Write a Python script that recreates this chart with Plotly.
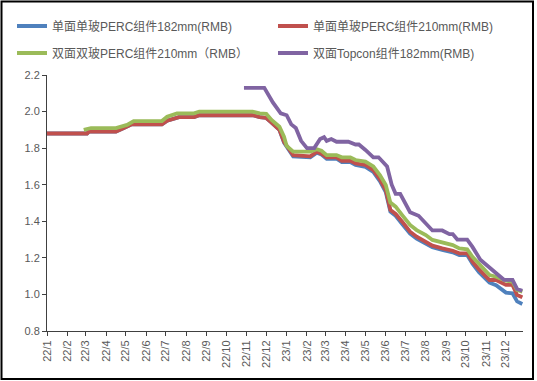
import plotly.graph_objects as go

# ---- data ----
names = ["单面单玻PERC组件182mm(RMB)", "单面单玻PERC组件210mm(RMB)",
         "双面双玻PERC组件210mm（RMB）", "双面Topcon组件182mm(RMB)"]

perc_dates = ["2022-01-01", "2022-03-03", "2022-03-06", "2022-04-16", "2022-04-28", "2022-05-10",
              "2022-06-25", "2022-07-03", "2022-07-21", "2022-08-13", "2022-08-21", "2022-11-10",
              "2022-11-21", "2022-12-01", "2022-12-09", "2022-12-21", "2022-12-28", "2023-01-11",
              "2023-02-06", "2023-02-16", "2023-02-23", "2023-03-03", "2023-03-18", "2023-03-26",
              "2023-04-08", "2023-04-16", "2023-05-01", "2023-05-13", "2023-05-23", "2023-06-01",
              "2023-06-08", "2023-06-16", "2023-06-26", "2023-07-08", "2023-07-18", "2023-08-01",
              "2023-08-11", "2023-08-26", "2023-09-11", "2023-09-21", "2023-10-03", "2023-10-11",
              "2023-10-21", "2023-11-06", "2023-11-16", "2023-12-01", "2023-12-11", "2023-12-18",
              "2023-12-26"]

red_values = [1.88, 1.88, 1.89, 1.89, 1.91, 1.93,
              1.93, 1.95, 1.97, 1.97, 1.98, 1.98,
              1.97, 1.965, 1.94, 1.90, 1.835, 1.762,
              1.755, 1.78, 1.77, 1.75, 1.75, 1.731,
              1.731, 1.717, 1.708, 1.68, 1.63, 1.571,
              1.462, 1.44, 1.398, 1.343, 1.316, 1.288,
              1.267, 1.252, 1.239, 1.225, 1.225, 1.179,
              1.137, 1.079, 1.079, 1.052, 1.052, 0.997,
              0.984]

blue_values = [1.88, 1.88, 1.89, 1.89, 1.91, 1.93,
               1.93, 1.95, 1.97, 1.97, 1.98, 1.98,
               1.97, 1.965, 1.94, 1.90, 1.83, 1.755,
               1.75, 1.775, 1.765, 1.742, 1.742, 1.724,
               1.724, 1.708, 1.698, 1.67, 1.62, 1.56,
               1.452, 1.43, 1.385, 1.332, 1.305, 1.278,
               1.258, 1.243, 1.23, 1.215, 1.215, 1.168,
               1.122, 1.064, 1.05, 1.01, 1.006, 0.962,
               0.948]

green_dates = ["2022-02-26", "2022-03-09", "2022-04-16", "2022-05-03", "2022-05-13", "2022-06-25",
               "2022-07-03", "2022-07-18", "2022-08-13", "2022-08-21", "2022-11-10",
               "2022-11-21", "2022-12-01", "2022-12-09", "2022-12-21", "2022-12-28", "2023-01-01",
               "2023-01-11", "2023-02-06", "2023-02-16", "2023-02-23", "2023-03-03", "2023-03-18",
               "2023-03-26", "2023-04-08", "2023-04-16", "2023-05-01", "2023-05-13", "2023-05-23",
               "2023-06-01", "2023-06-08", "2023-06-16", "2023-06-26", "2023-07-08", "2023-07-18",
               "2023-08-01", "2023-08-11", "2023-08-26", "2023-09-11", "2023-09-21", "2023-10-03",
               "2023-10-11", "2023-10-21", "2023-11-06", "2023-11-16", "2023-12-01", "2023-12-11",
               "2023-12-18", "2023-12-26"]

green_values = [1.90, 1.91, 1.91, 1.927, 1.948, 1.948,
                1.972, 1.99, 1.99, 2.0, 2.0,
                1.99, 1.987, 1.954, 1.917, 1.863, 1.812,
                1.781, 1.781, 1.794, 1.786, 1.762, 1.762,
                1.75, 1.75, 1.735, 1.726, 1.70, 1.653,
                1.598, 1.502, 1.48, 1.434, 1.38, 1.352,
                1.325, 1.298, 1.283, 1.27, 1.252, 1.247,
                1.206, 1.166, 1.106, 1.097, 1.075, 1.07,
                1.024, 1.015]

purple_dates = ["2022-10-28", "2022-11-21", "2022-11-28", "2022-12-11", "2022-12-23", "2023-01-01",
                "2023-01-08", "2023-01-15", "2023-01-23", "2023-02-01", "2023-02-12", "2023-02-21",
                "2023-02-27", "2023-03-03", "2023-03-10", "2023-03-18", "2023-04-05", "2023-04-16",
                "2023-04-21", "2023-05-01", "2023-05-13", "2023-05-21", "2023-06-03", "2023-06-10",
                "2023-06-16", "2023-06-23", "2023-07-01", "2023-07-08", "2023-07-21", "2023-08-01",
                "2023-08-11", "2023-08-26", "2023-09-06", "2023-09-11", "2023-09-18", "2023-10-03",
                "2023-10-11", "2023-10-23", "2023-11-06", "2023-11-18", "2023-11-28", "2023-12-01",
                "2023-12-11", "2023-12-18", "2023-12-26"]

purple_values = [2.13, 2.13, 2.13, 2.05, 1.99, 1.98,
                 1.93, 1.91, 1.84, 1.80, 1.80, 1.85,
                 1.86, 1.84, 1.85, 1.835, 1.835, 1.82,
                 1.82, 1.79, 1.75, 1.75, 1.70, 1.60,
                 1.55, 1.55, 1.50, 1.45, 1.43, 1.39,
                 1.35, 1.35, 1.33, 1.33, 1.30, 1.30,
                 1.26, 1.19, 1.15, 1.11, 1.08, 1.08,
                 1.08, 1.03, 1.02]

tick_dates = ["2022-%02d-01" % m for m in range(1, 13)] + ["2023-%02d-01" % m for m in range(1, 13)]
tick_labels = ["22/%d" % m for m in range(1, 13)] + ["23/%d" % m for m in range(1, 13)]

colors = ["#4F81BD", "#C0504D", "#9BBB59", "#8064A2"]
font_family = "Liberation Sans, Arial, Noto Sans CJK SC, sans-serif"

W, H = 537, 381
L, R, T, B = 47, 14, 75, 50
pw = W - L - R
ph = H - T - B

fig = go.Figure()
series = [(perc_dates, blue_values), (perc_dates, red_values),
          (green_dates, green_values), (purple_dates, purple_values)]
legend_ids = ["legend", "legend2", "legend3", "legend4"]
for i, (xs, ys) in enumerate(series):
    fig.add_trace(go.Scatter(x=xs, y=ys, mode="lines", name=names[i],
                             line=dict(color=colors[i], width=3.8), legend=legend_ids[i]))

# legend positions in pixels (left of legend box, row centre)
legend_px = [(12, 26), (273, 26), (12, 53), (273, 53)]
legend_layout = {}
for lid, (px, py) in zip(legend_ids, legend_px):
    legend_layout[lid] = dict(orientation="h", xanchor="left", yanchor="middle",
                              x=(px - L) / pw, y=1 + (T - py) / ph,
                              font=dict(family=font_family, size=12, color="#595959"),
                              bgcolor="rgba(0,0,0,0)", itemwidth=30)

fig.update_layout(
    width=W, height=H,
    margin=dict(l=L, r=R, t=T, b=B, autoexpand=False),
    paper_bgcolor="white", plot_bgcolor="white",
    font=dict(family=font_family, size=12, color="#595959"),
    showlegend=True,
    xaxis=dict(type="date", range=["2022-01-01", "2023-12-27"],
               tickmode="array", tickvals=tick_dates, ticktext=tick_labels,
               tickangle=-90, ticks="outside", ticklen=4, tickcolor="#404040",
               showline=True, linecolor="#404040", linewidth=1, showgrid=False,
               zeroline=False, automargin=False, tickfont=dict(size=11, color="#595959")),
    yaxis=dict(range=[0.8, 2.2], tickvals=[0.8, 1.0, 1.2, 1.4, 1.6, 1.8, 2.0, 2.2],
               ticktext=["0.8", "1.0", "1.2", "1.4", "1.6", "1.8", "2.0", "2.2"],
               ticks="outside", ticklen=4, tickcolor="#404040",
               showline=True, linecolor="#404040", linewidth=1, showgrid=False,
               zeroline=False, automargin=False, tickfont=dict(size=11, color="#595959")),
    **legend_layout,
)

# outer frame of the picture
fig.add_shape(type="rect", xref="paper", yref="paper",
              x0=(1.5 - L) / pw, x1=(533 - L) / pw,
              y0=-(379 - T - ph) / ph, y1=1 + (T - 1.5) / ph,
              line=dict(color="black", width=2), fillcolor="rgba(0,0,0,0)", layer="below")

fig.write_html("out.html", config={"displayModeBar": False},
               post_script="document.body.style.margin='0';")
